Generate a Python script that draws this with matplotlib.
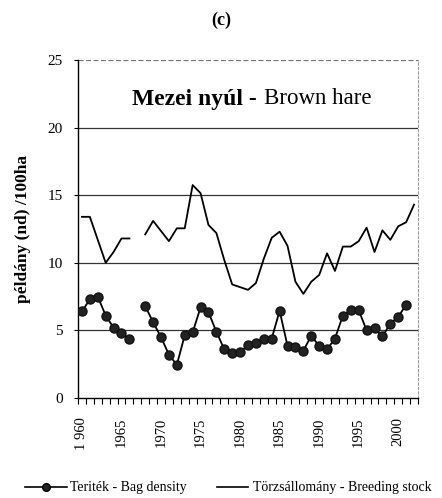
import numpy as np
import matplotlib
matplotlib.use("Agg")
import matplotlib.pyplot as plt
from matplotlib.lines import Line2D

nan = np.nan
years = list(range(1960, 2003))
breeding_stock = [13.4, 13.4, 11.7, 10.0, 10.8, 11.8, 11.8, nan, 12.1, 13.1,
                  12.35, 11.6, 12.55, 12.55, 15.75, 15.15, 12.8, 12.2, 10.2, 8.4,
                  8.2, 8.0, 8.5, 10.3, 11.85, 12.3, 11.25, 8.6, 7.7, 8.6,
                  9.1, 10.7, 9.4, 11.2, 11.2, 11.6, 12.6, 10.8, 12.4, 11.7,
                  12.7, 13.0, 14.3]
bag_density = [6.4, 7.3, 7.5, 6.1, 5.2, 4.8, 4.35, nan, 6.8, 5.6,
               4.5, 3.2, 2.45, 4.65, 4.85, 6.7, 6.35, 4.9, 3.6, 3.35,
               3.4, 3.9, 4.1, 4.35, 4.4, 6.45, 3.85, 3.8, 3.5, 4.6,
               3.85, 3.6, 4.4, 6.1, 6.5, 6.5, 5.0, 5.15, 4.55, 5.5,
               6.0, 6.9, nan]
tick_years = [1960, 1965, 1970, 1975, 1980, 1985, 1990, 1995, 2000]
tick_labels = ["1 960", "1965", "1970", "1975", "1980", "1985", "1990", "1995", "2000"]
y_ticks = [0, 5, 10, 15, 20, 25]
legend_labels = ["Teriték - Bag density", "Törzsállomány - Breeding stock"]

plt.rcParams['font.family'] = ['Liberation Serif', 'DejaVu Serif']

W, H = 442, 498
fig = plt.figure(figsize=(W/100, H/100), dpi=100)
ax = fig.add_axes([78/W, 1-398/H, 340/W, 338/H])

x = np.arange(len(years))
ax.plot(x, breeding_stock, color='black', lw=1.3, zorder=3)
ax.plot(x, bag_density, color='black', lw=1.3, marker='o', markersize=6.5,
        markerfacecolor='#222222', markeredgecolor='#111111', zorder=4)

ax.set_xlim(-0.5, len(years) - 0.5)
ax.set_ylim(0, 25)
ax.set_yticks(y_ticks)
ax.set_yticklabels([str(v) for v in y_ticks], fontsize=11)
for v in y_ticks[1:]:
    ax.axhline(v, color='#333333' if v < 25 else '#777777', lw=0.9,
               ls='-' if v < 25 else (0, (4, 2)), zorder=1)

ax.set_xticks([years.index(y) for y in tick_years])
ax.set_xticklabels(tick_labels, rotation=90, fontsize=10.5)
ax.set_xticks(np.arange(-0.5, len(years)), minor=True)
ax.tick_params(axis='x', which='major', length=0, pad=14)
ax.tick_params(axis='x', which='minor', length=4, width=0.8, direction='out')
ax.tick_params(axis='y', length=3, width=0.8, direction='out', pad=8)

ax.spines['top'].set_visible(False)
ax.spines['right'].set_color('#999999')
ax.spines['right'].set_linestyle((0, (2, 2)))
ax.spines['left'].set_linewidth(1.0)
ax.spines['bottom'].set_linewidth(1.0)

ax.set_ylabel("példány (nd) /100ha", fontsize=12.5, fontweight='bold', labelpad=12)

ax.text((257 - 78) / 340, (398 - 99) / 338, "Mezei nyúl -", transform=ax.transAxes,
        fontsize=17, fontweight='bold', ha='right', va='center')
ax.text((264 - 78) / 340, (398 - 99) / 338, "Brown hare", transform=ax.transAxes,
        fontsize=16.5, ha='left', va='center')

fig.text(0.5, 1 - 20/H, "(c)", ha='center', va='center', fontsize=13,
         fontweight='bold')

# legend drawn at figure level
ly = 1 - 487/H
fig.add_artist(Line2D([25/W, 67/W], [ly, ly], color='black', lw=1.2,
                      transform=fig.transFigure))
fig.add_artist(Line2D([46/W], [ly], color='black', marker='o', markersize=5.5,
                      markerfacecolor='#222222', transform=fig.transFigure))
fig.text(70/W, ly, legend_labels[0], ha='left', va='center', fontsize=10)
fig.add_artist(Line2D([217/W, 248/W], [ly, ly], color='black', lw=1.2,
                      transform=fig.transFigure))
fig.text(253/W, ly, legend_labels[1], ha='left', va='center', fontsize=10)

fig.savefig("out.png", dpi=100)
